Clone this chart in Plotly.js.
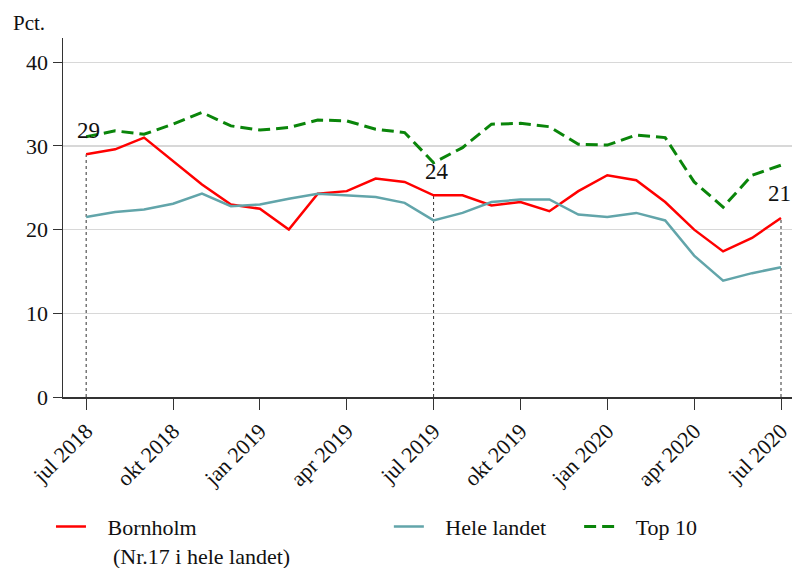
<!DOCTYPE html>
<html>
<head>
<meta charset="utf-8">
<script src="https://cdn.plot.ly/plotly-3.0.1.min.js"></script>
<style>html,body{margin:0;padding:0;background:#fff;}#chart{width:792px;height:568px;}</style>
</head>
<body>
<div id="chart"></div>
<script>
const months = ["jul 2018","aug 2018","sep 2018","okt 2018","nov 2018","dec 2018","jan 2019","feb 2019","mar 2019","apr 2019","maj 2019","jun 2019","jul 2019","aug 2019","sep 2019","okt 2019","nov 2019","dec 2019","jan 2020","feb 2020","mar 2020","apr 2020","maj 2020","jun 2020","jul 2020"];
const tickMonths = ["jul 2018","okt 2018","jan 2019","apr 2019","jul 2019","okt 2019","jan 2020","apr 2020","jul 2020"];
const bornholm = [29.0,29.6,31.0,28.2,25.4,23.0,22.5,20.0,24.3,24.6,26.1,25.7,24.1,24.1,22.9,23.3,22.2,24.6,26.5,25.9,23.3,20.0,17.4,19.0,21.4];
const heleLandet = [21.5,22.1,22.4,23.1,24.3,22.8,23.0,23.7,24.3,24.1,23.9,23.2,21.1,22.0,23.3,23.6,23.6,21.8,21.5,22.0,21.1,16.9,13.9,14.8,15.5];
const top10 = [31.1,31.8,31.4,32.6,34.0,32.4,31.9,32.2,33.1,33.0,32.0,31.6,28.0,29.8,32.6,32.7,32.3,30.2,30.1,31.3,31.0,25.7,22.7,26.5,27.7];
const markedIdx = [0,12,24];
const yTicks = [0,10,20,30,40];

const serif = "Liberation Serif, Times New Roman, serif";
const pad = "&nbsp;&nbsp;&nbsp;";

const traces = [
  {x: months, y: bornholm, type: "scatter", mode: "lines", name: pad + "Bornholm<br>" + pad + " (Nr.17 i hele landet)",
   line: {color: "#ff0000", width: 2.5}, legend: "legend"},
  {x: months, y: heleLandet, type: "scatter", mode: "lines", name: pad + "Hele landet",
   line: {color: "#62a5aa", width: 2.5}, legend: "legend2"},
  {x: months, y: top10, type: "scatter", mode: "lines", name: pad + "Top 10",
   line: {color: "#0a850a", width: 3, dash: "12px,6px"}, legend: "legend3"}
];

const shapes = markedIdx.map(i => ({
  type: "line", xref: "x", yref: "y", x0: months[i], x1: months[i], y0: 0, y1: bornholm[i],
  line: {color: "#333", width: 1, dash: "dot"}, layer: "below"
}));

const annotations = markedIdx.map(i => ({
  x: months[i], y: bornholm[i], xref: "x", yref: "y", text: String(Math.round(bornholm[i])),
  showarrow: false, yshift: 24, xshift: i === 0 ? 2 : (i === 24 ? -2 : 3),
  font: {family: serif, size: 23, color: "#111"}
}));
annotations.push({
  text: "Pct.", xref: "paper", yref: "paper", x: -0.072, y: 1.042, xanchor: "left", yanchor: "middle",
  showarrow: false, font: {family: serif, size: 21, color: "#111"}
});

const legendBase = {orientation: "h", yref: "paper", y: -0.303, yanchor: "top", xanchor: "left",
  font: {family: serif, size: 22, color: "#111"}, bgcolor: "rgba(0,0,0,0)", valign: "top"};

const layout = {
  width: 792, height: 568,
  margin: {l: 63, r: 0, t: 38, b: 171, autoexpand: false},
  paper_bgcolor: "#fff", plot_bgcolor: "#fff",
  font: {family: serif, color: "#111"},
  showlegend: true,
  xaxis: {
    type: "category", range: [-0.8, 24.38], tickmode: "array", tickvals: tickMonths, ticktext: tickMonths,
    tickangle: -45, ticks: "outside", ticklen: 11, tickcolor: "#333", showgrid: false, automargin: false,
    showline: true, linecolor: "#333", linewidth: 1.5, zeroline: false,
    tickfont: {family: serif, size: 22, color: "#111"}
  },
  yaxis: {
    range: [0, 42.9], tickmode: "array", tickvals: yTicks, ticks: "outside", ticklen: 9, tickcolor: "#333",
    showgrid: true, gridcolor: "#d8d8d8", gridwidth: 1.5, showline: true, linecolor: "#333", linewidth: 1.5,
    zeroline: false, automargin: false, tickfont: {family: serif, size: 22, color: "#111"}
  },
  legend: Object.assign({}, legendBase, {x: -0.0165}),
  legend2: Object.assign({}, legendBase, {x: 0.447}),
  legend3: Object.assign({}, legendBase, {x: 0.708}),
  shapes: shapes,
  annotations: annotations
};

Plotly.newPlot("chart", traces, layout, {displayModeBar: false, staticPlot: true});
</script>
</body>
</html>
